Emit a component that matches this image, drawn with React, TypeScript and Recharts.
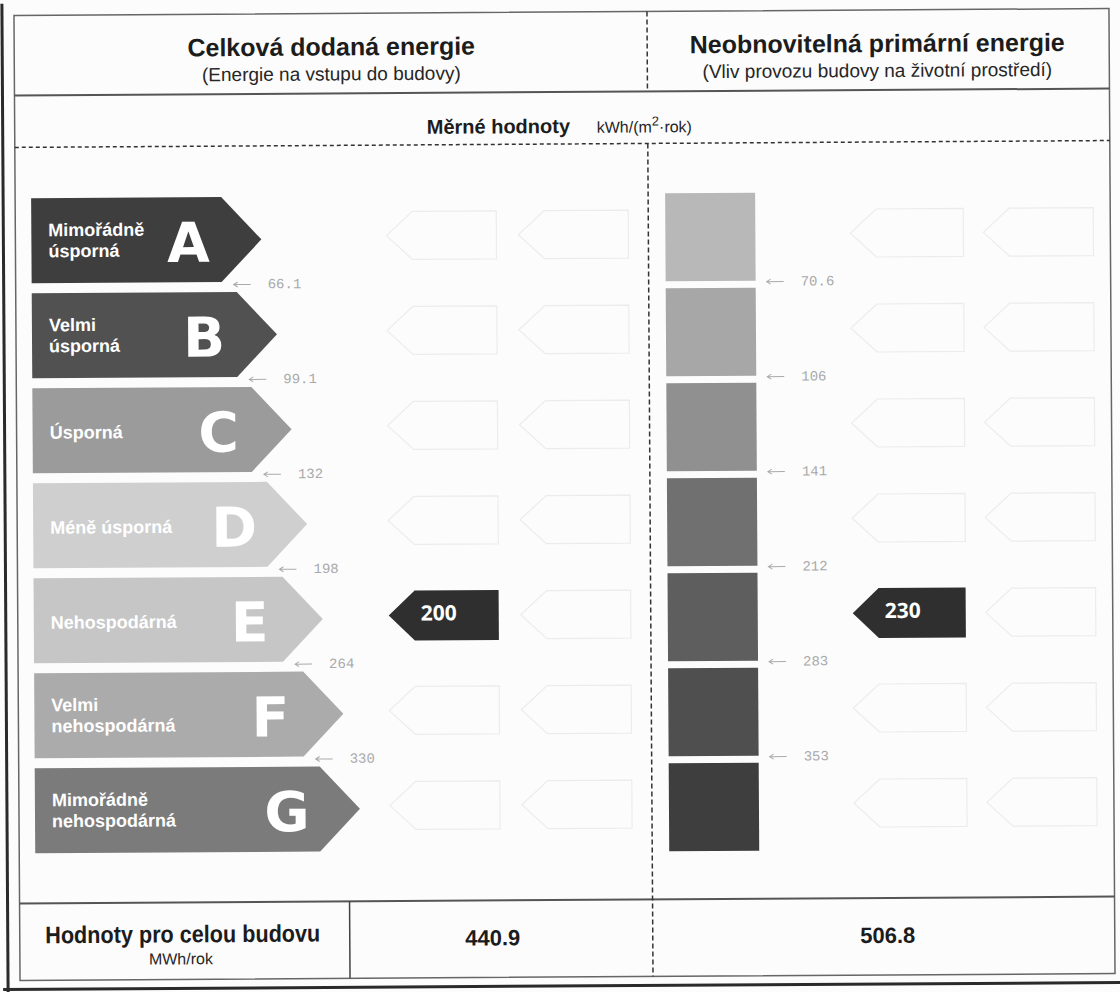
import React from 'react';
import { BarChart, Bar, XAxis, YAxis } from 'recharts';

// energetické třídy
const classes = ['A', 'B', 'C', 'D', 'E', 'F', 'G'];
const classNames = [
  ['Mimořádně', 'úsporná'],
  ['Velmi', 'úsporná'],
  ['Úsporná'],
  ['Méně úsporná'],
  ['Nehospodárná'],
  ['Velmi', 'nehospodárná'],
  ['Mimořádně', 'nehospodárná'],
];
// délka šipek jednotlivých tříd
const arrowLength = [230, 245, 259, 274, 289, 309, 325];
// hranice tříd kWh/(m2.rok)
const deliveredLimits = ['66.1', '99.1', '132', '198', '264', '330'];
const primaryLimits = ['70.6', '106', '141', '212', '283', '353'];

const deliveredValue = 200;
const deliveredClass = 'E';
const primaryValue = 230;
const primaryClass = 'E';

const deliveredTotal = '440.9';
const primaryTotal = '506.8';

const arrowColors = ['#3e3e3e', '#515151', '#9b9b9b', '#cfcfcf', '#c6c6c6', '#ababab', '#7b7b7b'];
const barColors = ['#b8b8b8', '#a7a7a7', '#909090', '#707070', '#5e5e5e', '#4f4f4f', '#3e3e3e'];

const rows = classes.map((cls, i) => ({ cls, len: arrowLength[i], span: 1 }));

const SANS = '"Liberation Sans", Arial, sans-serif';
const MONO = '"Liberation Mono", "DejaVu Sans Mono", monospace';

const tagPoints = (left: number, right: number, cy: number, h: number, notch: number) =>
  `${left},${cy} ${left + notch},${cy - h / 2} ${right},${cy - h / 2} ${right},${cy + h / 2} ${left + notch},${cy + h / 2}`;

const Limit = ({ x, y, label }: { x: number; y: number; label: string }) => (
  <g>
    <path d={`M${x} ${y} L${x + 17} ${y} M${x + 4} ${y - 2.5} L${x} ${y} L${x + 4} ${y + 2.5}`} stroke="#aaa" strokeWidth={1} fill="none" />
    <text x={x + 34} y={y} dominantBaseline="central" fontFamily={MONO} fontSize={14} fill="#a9a9a9">
      {label}
    </text>
  </g>
);

const Tag = ({ left, right, cy, active, value }: { left: number; right: number; cy: number; active: boolean; value: number }) =>
  active ? (
    <g>
      <polygon points={tagPoints(left, right, cy, 50, 26)} fill="#2f2f2f" />
      <text x={left + 50} y={cy - 3} textAnchor="middle" dominantBaseline="central" fontFamily='"Open Sans", "DejaVu Sans", sans-serif' fontWeight={700} fontSize={21} fill="#fff">
        {value}
      </text>
    </g>
  ) : (
    <polygon points={tagPoints(left, right, cy, 48, 26)} fill="none" stroke="#ececec" strokeWidth={1.2} />
  );

const DeliveredArrow = (props: any) => {
  const { x, y, width, height, payload } = props;
  const i = classes.indexOf(payload.cls);
  const tip = x + width;
  const body = tip - 40;
  const cy = y + height / 2;
  const lines = classNames[i];
  const limit = deliveredLimits[i];
  return (
    <g>
      <polygon points={`${x},${y} ${body},${y} ${tip},${cy} ${body},${y + height} ${x},${y + height}`} fill={arrowColors[i]} />
      {lines.map((t, k) => (
        <text
          key={k}
          x={x + 17}
          y={lines.length === 1 ? cy + 2 : cy + (k === 0 ? -10.5 : 10.5)}
          dominantBaseline="central"
          fontFamily={SANS}
          fontWeight={700}
          fontSize={18}
          fill="#fff"
        >
          {t}
        </text>
      ))}
      <text x={tip - 73} y={cy + 3} textAnchor="middle" dominantBaseline="central" fontFamily='"DejaVu Sans", sans-serif' fontWeight={700} fontSize={55} fill="#fff">
        {payload.cls}
      </text>
      {limit && <Limit x={tip - 28} y={y + height + 2.5} label={limit} />}
      <Tag left={388} right={498} cy={cy - 3} active={payload.cls === deliveredClass} value={deliveredValue} />
      <Tag left={520} right={630} cy={cy - 3} active={false} value={deliveredValue} />
    </g>
  );
};

const PrimaryBar = (props: any) => {
  const { x, y, width, height, payload } = props;
  const i = classes.indexOf(payload.cls);
  const cy = y + height / 2;
  const limit = primaryLimits[i];
  return (
    <g>
      <rect x={x} y={y} width={width} height={height} fill={barColors[i]} />
      {limit && <Limit x={x + width + 11} y={y + height + 1} label={limit} />}
      <Tag left={852} right={965} cy={cy - 3} active={payload.cls === primaryClass} value={primaryValue} />
      <Tag left={985} right={1095} cy={cy - 3} active={false} value={primaryValue} />
    </g>
  );
};

const dash = { stroke: '#333', strokeWidth: 1.5, strokeDasharray: '4 3' };

export default function App() {
  return (
    <div style={{ position: 'absolute', left: 0, top: 0, width: 1120, height: 992, background: '#fcfcfc', overflow: 'hidden' }}>
      <div style={{ position: 'absolute', left: 0, top: 0, width: 1120, height: 992, transform: 'rotate(-0.36deg)' }}>
        <svg width={1120} height={992} style={{ position: 'absolute', left: 0, top: 0 }}>
          <line x1={5} y1={0} x2={5} y2={992} stroke="#2a2a2a" strokeWidth={3} />
          <line x1={0} y1={986} x2={1120} y2={986} stroke="#2a2a2a" strokeWidth={3} />
          <rect x={17} y={12} width={1095} height={965} fill="none" stroke="#666" strokeWidth={1.5} />
          <line x1={17} y1={92} x2={1112} y2={92} stroke="#555" strokeWidth={2} />
          <line x1={17} y1={144} x2={1112} y2={144} {...dash} />
          <line x1={17} y1={900} x2={1112} y2={900} stroke="#555" strokeWidth={2} />
          <line x1={347} y1={900} x2={347} y2={977} stroke="#444" strokeWidth={1.5} />
          <line x1={650} y1={12} x2={650} y2={92} {...dash} strokeDasharray="5 3" />
          <line x1={650} y1={144} x2={650} y2={977} {...dash} strokeDasharray="5 3" />

          <text x={334} y={54} textAnchor="middle" fontFamily={SANS} fontWeight={700} fontSize={25} fill="#1c1c1c">
            Celková dodaná energie
          </text>
          <text x={334} y={79} textAnchor="middle" fontFamily={SANS} fontSize={19} fill="#262626">
            (Energie na vstupu do budovy)
          </text>
          <text x={880} y={54} textAnchor="middle" fontFamily={SANS} fontWeight={700} fontSize={25} fill="#1c1c1c">
            Neobnovitelná primární energie
          </text>
          <text x={880} y={79} textAnchor="middle" fontFamily={SANS} fontSize={19} fill="#262626">
            (Vliv provozu budovy na životní prostředí)
          </text>

          <text x={429} y={133} fontFamily={SANS} fontWeight={700} fontSize={20} fill="#1c1c1c">
            Měrné hodnoty
          </text>
          <text x={599} y={133} fontFamily={SANS} fontSize={16} fill="#262626">
            kWh/(m
            <tspan dy={-7} fontSize={13}>2</tspan>
            <tspan dy={7}>·rok)</tspan>
          </text>

          <text x={180} y={940} textAnchor="middle" fontFamily={SANS} fontWeight={700} fontSize={24} textLength={275} lengthAdjust="spacingAndGlyphs" fill="#1c1c1c">
            Hodnoty pro celou budovu
          </text>
          <text x={178} y={962} textAnchor="middle" fontFamily={SANS} fontSize={16} fill="#262626">
            MWh/rok
          </text>
          <text x={490} y={945} textAnchor="middle" fontFamily={SANS} fontWeight={700} fontSize={22} fill="#1c1c1c">
            {deliveredTotal}
          </text>
          <text x={885} y={945} textAnchor="middle" fontFamily={SANS} fontWeight={700} fontSize={22} fill="#1c1c1c">
            {primaryTotal}
          </text>
        </svg>

        <div style={{ position: 'absolute', left: 0, top: 190 }}>
          <BarChart width={640} height={665} data={rows} layout="vertical" margin={{ top: 0, right: 0, bottom: 0, left: 33 }} barSize={85}>
            <XAxis type="number" hide domain={[0, 607]} />
            <YAxis type="category" dataKey="cls" hide width={0} />
            <Bar dataKey="len" shape={DeliveredArrow} isAnimationActive={false} />
          </BarChart>
        </div>

        <div style={{ position: 'absolute', left: 0, top: 190 }}>
          <BarChart width={1120} height={665} data={rows} layout="vertical" margin={{ top: 0, right: 363, bottom: 0, left: 667 }} barSize={88}>
            <XAxis type="number" hide domain={[0, 1]} />
            <YAxis type="category" dataKey="cls" hide width={0} />
            <Bar dataKey="span" shape={PrimaryBar} isAnimationActive={false} />
          </BarChart>
        </div>
      </div>
    </div>
  );
}
